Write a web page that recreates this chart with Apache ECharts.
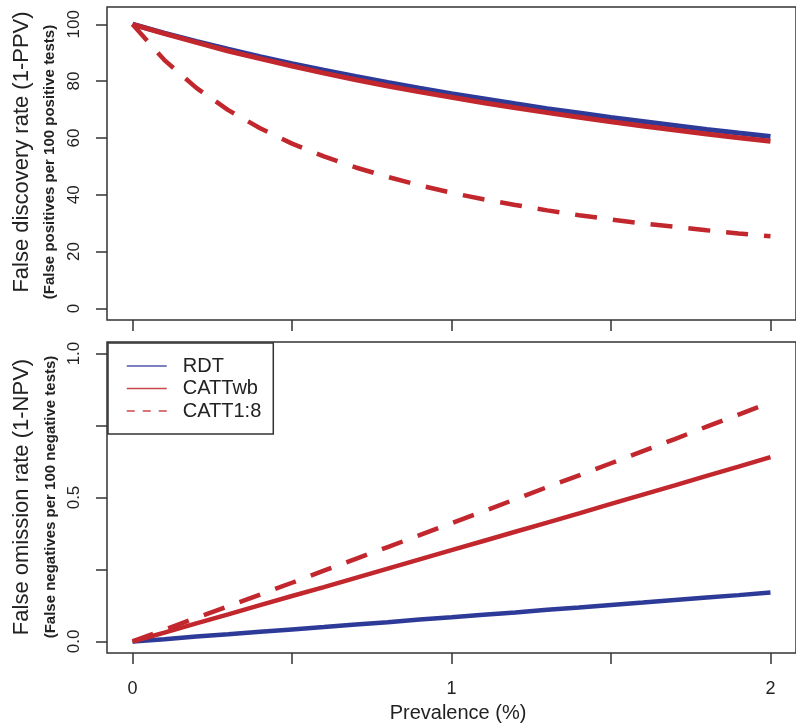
<!DOCTYPE html>
<html>
<head>
<meta charset="utf-8">
<script src="https://cdn.jsdelivr.net/npm/echarts@6/dist/echarts.min.js"></script>
<style>
  html, body { margin: 0; padding: 0; background: #fff; }
  #chart { width: 796px; height: 723px; }
</style>
</head>
<body>
<div id="chart"></div>
<script>
// Prevalence (%) at which each curve is sampled
const prevalence = [0, 0.1, 0.2, 0.3, 0.4, 0.5, 0.6, 0.7, 0.8, 0.9, 1.0,
                    1.1, 1.2, 1.3, 1.4, 1.5, 1.6, 1.7, 1.8, 1.9, 2.0];

// False discovery rate (1-PPV), false positives per 100 positive tests
const fdrRDT     = [100, 96.9, 94.0, 91.2, 88.6, 86.1, 83.8, 81.6, 79.5, 77.5, 75.6,
                    73.8, 72.0, 70.3, 68.8, 67.2, 65.8, 64.4, 63.0, 61.7, 60.5];
const fdrCATTwb  = [100, 96.7, 93.6, 90.6, 87.9, 85.3, 82.8, 80.5, 78.3, 76.2, 74.3,
                    72.4, 70.6, 68.9, 67.3, 65.7, 64.2, 62.8, 61.4, 60.1, 58.8];
const fdrCATT18  = [100, 87.4, 77.6, 69.8, 63.4, 58.0, 53.5, 49.6, 46.3, 43.3, 40.7,
                    38.4, 36.4, 34.5, 32.8, 31.3, 29.9, 28.7, 27.5, 26.4, 25.4];

// False omission rate (1-NPV), false negatives per 100 negative tests
const forRDT     = [0, 0.008, 0.017, 0.025, 0.034, 0.042, 0.050, 0.059, 0.067, 0.076, 0.084,
                    0.093, 0.101, 0.110, 0.118, 0.127, 0.135, 0.144, 0.153, 0.161, 0.170];
const forCATTwb  = [0, 0.031, 0.063, 0.094, 0.126, 0.158, 0.189, 0.221, 0.253, 0.285, 0.317,
                    0.349, 0.381, 0.413, 0.445, 0.478, 0.510, 0.542, 0.575, 0.607, 0.640];
const forCATT18  = [0, 0.041, 0.082, 0.122, 0.163, 0.204, 0.246, 0.287, 0.328, 0.369, 0.411,
                    0.452, 0.494, 0.536, 0.577, 0.619, 0.661, 0.703, 0.746, 0.788, 0.830];

// Tick positions and labels
const xTicks = [0, 0.5, 1, 1.5, 2];
const xLabels = [0, 1, 2];
const fdrTicks = [0, 20, 40, 60, 80, 100];
const forTicks = [0, 0.25, 0.5, 0.75, 1];
const forLabels = [0, 0.5, 1];

const seriesNames = ['RDT', 'CATTwb', 'CATT1:8'];

const BLUE = '#2e3a97';
const RED = '#c1272d';
const INK = '#222';
const FONT = '"Liberation Sans", Arial, sans-serif';

const pairs = (ys) => prevalence.map((x, i) => [x, ys[i]]);

const tickStyle = { show: true, inside: false, length: 11, lineStyle: { color: '#333', width: 1.5 } };

function xAxis(gridIndex, withLabels) {
  return {
    type: 'value', gridIndex, position: 'bottom',
    min: -0.08, max: 2.08,
    axisLine: { show: false, onZero: false },
    splitLine: { show: false },
    axisTick: Object.assign({ customValues: xTicks }, tickStyle),
    axisLabel: withLabels
      ? { show: true, customValues: xLabels, margin: 27, fontSize: 18, color: INK, fontFamily: FONT }
      : { show: false }
  };
}

function yAxis(gridIndex, min, max, ticks, labels, fmt) {
  return {
    type: 'value', gridIndex, min, max, position: 'left',
    axisLine: { show: false, onZero: false },
    splitLine: { show: false },
    axisTick: Object.assign({ customValues: ticks }, tickStyle),
    axisLabel: {
      show: true, customValues: labels, rotate: 90, margin: 24,
      fontSize: 17, color: INK, fontFamily: FONT, formatter: fmt
    }
  };
}

function line(name, data, color, axisIdx, dashed, width) {
  return {
    name, type: 'line', data,
    xAxisIndex: axisIdx, yAxisIndex: axisIdx,
    symbol: 'none', showSymbol: false, smooth: false, silent: true,
    lineStyle: { color, width, type: dashed ? [22, 16] : 'solid', cap: 'butt' },
    itemStyle: { color }
  };
}

function vText(text, x, y, size, weight) {
  return {
    type: 'text', x, y, rotation: Math.PI / 2,
    style: {
      text, fill: INK, font: `${weight || 'normal'} ${size}px ${FONT}`,
      align: 'center', verticalAlign: 'middle'
    }
  };
}

const chart = echarts.init(document.getElementById('chart'), null, { renderer: 'canvas' });

chart.setOption({
  animation: false,
  backgroundColor: '#fff',
  grid: [
    { left: 107, top: 7, width: 701, height: 313, show: true, borderColor: '#333', borderWidth: 1.5, backgroundColor: 'transparent' },
    { left: 107, top: 342, width: 701, height: 311, show: true, borderColor: '#333', borderWidth: 1.5, backgroundColor: 'transparent' }
  ],
  xAxis: [xAxis(0, false), xAxis(1, true)],
  yAxis: [
    yAxis(0, -4.08, 106.08, fdrTicks, fdrTicks, (v) => String(v)),
    yAxis(1, -0.04, 1.04, forTicks, forLabels, (v) => v.toFixed(1))
  ],
  legend: {
    orient: 'vertical', left: 108, top: 343,
    data: [
      { name: 'RDT' },
      { name: 'CATTwb' },
      { name: 'CATT1:8', lineStyle: { type: [8, 8] } }
    ],
    itemWidth: 40, itemHeight: 14, itemGap: 0.5,
    padding: [12, 12, 12, 18],
    borderColor: '#333', borderWidth: 1.5, borderRadius: 0,
    backgroundColor: '#fff',
    // legend keys are plain line samples, no marker
    itemStyle: { opacity: 0 },
    lineStyle: { width: 1.5, opacity: 0.85 },
    textStyle: { fontSize: 20, lineHeight: 22, color: INK, fontFamily: FONT, padding: [0, 0, 0, 11] },
    selectedMode: false
  },
  graphic: [
    vText('False discovery rate (1-PPV)', 22, 152, 22),
    vText('(False positives per 100 positive tests)', 50, 162, 15, 'bold'),
    vText('False omission rate (1-NPV)', 22, 497, 22),
    vText('(False negatives per 100 negative tests)', 51, 497, 15, 'bold'),
    {
      type: 'text', x: 458, y: 713,
      style: { text: 'Prevalence (%)', fill: INK, font: `normal 20px ${FONT}`, align: 'center', verticalAlign: 'middle' }
    }
  ],
  series: [
    line(seriesNames[0], pairs(fdrRDT), BLUE, 0, false, 5),
    line(seriesNames[1], pairs(fdrCATTwb), RED, 0, false, 5),
    line(seriesNames[2], pairs(fdrCATT18), RED, 0, true, 4.5),
    line(seriesNames[0], pairs(forRDT), BLUE, 1, false, 4.5),
    line(seriesNames[1], pairs(forCATTwb), RED, 1, false, 4.5),
    line(seriesNames[2], pairs(forCATT18), RED, 1, true, 4.5)
  ]
});
</script>
</body>
</html>
